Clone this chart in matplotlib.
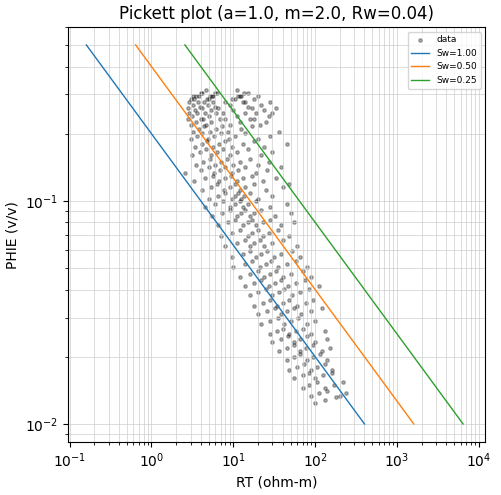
import numpy as np
import matplotlib
matplotlib.use("Agg")
import matplotlib.pyplot as plt

a, m, n, Rw = 1.0, 2.0, 2.0, 0.04
sw_values = [1.0, 0.5, 0.25]
phi_line = [0.01, 0.5]

# (PHIE band, list of RT values)
bands = [
    (0.305, [3.2, 4.0, 4.6, 5.2, 5.9, 11, 12, 13.5]),
    (0.295, [3.0, 3.5, 4.1, 4.8, 5.5, 6.3, 10.5, 12.5, 15]),
    (0.285, [2.9, 3.3, 3.8, 4.4, 5.0, 5.7, 8, 9.5, 11.5, 14, 18, 20]),
    (0.27, [2.8, 3.2, 3.7, 4.2, 4.9, 5.6, 6.5, 9, 13, 17, 22, 28, 33]),
    (0.255, [2.9, 3.4, 3.9, 4.5, 5.3, 6, 7.5, 10, 15, 19, 24]),
    (0.24, [2.8, 3.1, 3.6, 4.3, 5.1, 6.2, 7.8, 11, 14, 18, 27, 30]),
    (0.225, [3.0, 3.5, 4.0, 4.7, 5.4, 6.8, 9, 12, 16, 21, 25]),
    (0.21, [3.2, 3.8, 4.4, 5.2, 6.1, 7.2, 8.5, 12.5, 17, 36]),
    (0.195, [3.0, 3.6, 4.2, 4.9, 5.8, 7, 8.8, 10.5, 14, 20, 28]),
    (0.18, [3.4, 4.1, 4.8, 5.6, 6.6, 8, 9.5, 13, 18, 24, 45]),
    (0.165, [3.1, 3.9, 4.6, 5.4, 6.3, 7.4, 9, 11, 15, 22, 30]),
    (0.15, [3.5, 4.3, 5.2, 6.0, 7.0, 8.3, 10, 12, 16, 20, 27]),
    (0.138, [2.6, 4.0, 5.0, 5.8, 6.8, 8.0, 9.5, 11.5, 14, 19, 26, 38]),
    (0.126, [3.3, 4.5, 5.6, 6.7, 7.9, 9.3, 11, 13, 17, 23, 33]),
    (0.115, [4.2, 5.3, 6.4, 7.6, 9.0, 10.5, 12, 14, 18, 25, 40, 48]),
    (0.105, [5.0, 6.5, 8.0, 9.5, 10.5, 11.5, 12.5, 13.5, 16, 20, 30]),
    (0.097, [4.5, 6.0, 7.5, 9.0, 10.5, 12, 13, 15, 19, 28, 45]),
    (0.088, [5.5, 7.2, 9, 11, 12.5, 14, 16, 18, 22, 32, 50]),
    (0.08, [6.5, 8.5, 10.5, 13, 15, 17, 19, 23, 28, 38, 55]),
    (0.072, [7.0, 9.5, 12, 15, 17, 20, 23, 27, 35, 48]),
    (0.065, [8.0, 11, 14, 16, 18, 21, 24, 30, 40, 60]),
    (0.058, [9.5, 13, 16, 19, 22, 26, 31, 38, 52, 65]),
    (0.052, [10, 14, 17, 21, 25, 29, 35, 45, 58, 80]),
    (0.047, [12, 16, 20, 24, 28, 33, 40, 50, 70, 90]),
    (0.043, [14, 18, 22, 27, 32, 38, 46, 58, 75, 110]),
    (0.039, [16, 20, 25, 30, 36, 42, 52, 65, 85]),
    (0.035, [18, 23, 28, 34, 40, 48, 60, 78, 95]),
    (0.032, [20, 26, 32, 38, 45, 55, 68, 90, 120]),
    (0.029, [22, 28, 35, 42, 50, 62, 80, 100]),
    (0.026, [28, 34, 40, 48, 58, 70, 90, 130]),
    (0.024, [30, 38, 46, 55, 66, 80, 100, 140]),
    (0.022, [36, 45, 55, 65, 78, 95, 120, 150]),
    (0.020, [45, 55, 66, 80, 95, 115, 140]),
    (0.018, [48, 60, 72, 88, 105, 130, 160]),
    (0.0165, [55, 70, 85, 100, 125, 160]),
    (0.015, [70, 85, 105, 130, 170, 220]),
    (0.0137, [90, 110, 140, 200, 240]),
    (0.0128, [100, 130, 180]),
]

rt_data = []
phie_data = []
for phi, rts in bands:
    for i, r in enumerate(rts):
        rt_data.append(r)
        phie_data.append(phi * (1 + 0.03 * ((i % 3) - 1)))

fig, ax = plt.subplots(figsize=(5.02, 4.95), dpi=100)
ax.scatter(rt_data, phie_data, s=6, c="black", alpha=0.3, label="data")
colors = ["#1f77b4", "#ff7f0e", "#2ca02c"]
for sw, c in zip(sw_values, colors):
    rt_line = [a * Rw / (p ** m * sw ** n) for p in phi_line]
    ax.plot(rt_line, phi_line, color=c, lw=1, label=f"Sw={sw:.2f}")
ax.set_xscale("log")
ax.set_yscale("log")
ax.set_xlim(0.095, 1.2e4)
ax.set_ylim(0.0083, 0.6)
ax.grid(True, which="both", color="#cccccc", lw=0.6, alpha=0.8)
ax.set_xlabel("RT (ohm-m)")
ax.set_ylabel("PHIE (v/v)")
ax.set_title("Pickett plot (a=1.0, m=2.0, Rw=0.04)")
ax.legend(loc="upper right", fontsize=6.5)
fig.subplots_adjust(left=0.135, right=0.967, top=0.945, bottom=0.107)
fig.savefig("out.png")
